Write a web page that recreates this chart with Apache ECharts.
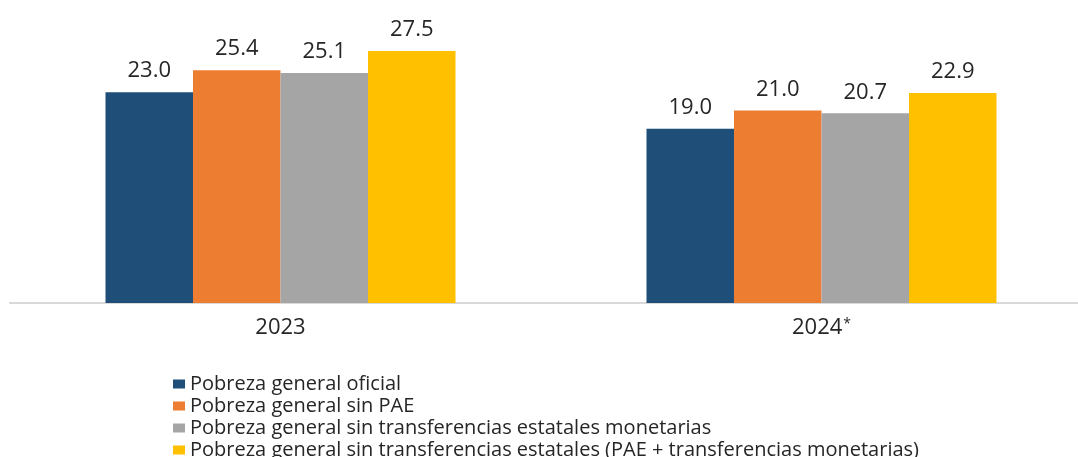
<!DOCTYPE html>
<html><head><meta charset="utf-8">
<script src="https://cdn.jsdelivr.net/npm/echarts@6/dist/echarts.min.js"></script>
<style>html,body{margin:0;padding:0;background:#fff}#c{width:1078px;height:457px}</style>
</head><body><div id="c"></div>
<script>
const categories = ['2023', '2024*'];
const seriesNames = [
  'Pobreza general oficial',
  'Pobreza general sin PAE',
  'Pobreza general sin transferencias estatales monetarias',
  'Pobreza general sin transferencias estatales (PAE + transferencias monetarias)'
];
const oficial = [23.0, 19.0];
const sinPAE = [25.4, 21.0];
const sinTransfMonetarias = [25.1, 20.7];
const sinTransfEstatales = [27.5, 22.9];
const colors = ['#1F4E79', '#ED7D31', '#A5A5A5', '#FFC000'];
const values = [oficial, sinPAE, sinTransfMonetarias, sinTransfEstatales];
const FONT = 'Open Sans';

const chart = echarts.init(document.getElementById('c'));
chart.setOption({
  animation: false,
  textStyle: { fontFamily: FONT },
  grid: { left: 10, width: 1082, top: 28, height: 275, outerBoundsMode: 'none', containLabel: false },
  legend: {
    orient: 'vertical', left: 173, top: 373, height: 100, padding: 0,
    itemWidth: 12, itemHeight: 9, itemGap: 0,
    icon: 'rect',
    textStyle: { fontFamily: FONT, fontSize: 20, color: '#262626', lineHeight: 22 },
    data: seriesNames
  },
  xAxis: {
    type: 'category', data: categories,
    axisLine: { lineStyle: { color: '#D9D9D9', width: 2 } },
    axisTick: { show: false },
    axisLabel: {
      fontFamily: FONT, fontSize: 22, color: '#262626', margin: 14,
      formatter: v => v.endsWith('*') ? v.slice(0, -1) + '{s|*}' : v,
      rich: { s: { fontFamily: FONT, fontSize: 14, color: '#262626', verticalAlign: 'top', padding: [0, 0, 8, 1] } }
    }
  },
  yAxis: { type: 'value', min: 0, max: 30, show: false, splitLine: { show: false } },
  series: values.map((v, i) => ({
    name: seriesNames[i], type: 'bar', data: v,
    barWidth: 87.5, barGap: '0%',
    itemStyle: { color: colors[i] },
    label: {
      show: true, position: 'top', distance: 10,
      formatter: p => p.value.toFixed(1),
      fontFamily: FONT, fontSize: 22, color: '#262626'
    }
  }))
});
</script></body></html>
